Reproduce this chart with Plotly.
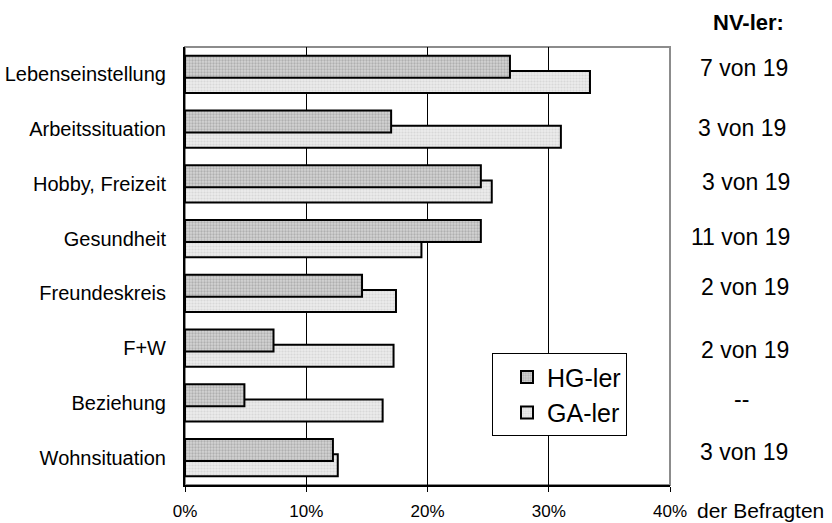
import plotly.graph_objects as go

categories = ["Lebenseinstellung", "Arbeitssituation", "Hobby, Freizeit", "Gesundheit",
              "Freundeskreis", "F+W", "Beziehung", "Wohnsituation"]
hg_values = [26.8, 17.0, 24.4, 24.4, 14.6, 7.3, 4.9, 12.2]
ga_values = [33.4, 31.0, 25.3, 19.5, 17.4, 17.2, 16.3, 12.6]
nv_labels = ["7 von 19", "3 von 19", "3 von 19", "11 von 19", "2 von 19", "2 von 19", "--", "3 von 19"]
nv_shift = [6, 1, 2, 2, 6, -2, 4, 6]
nv_xshift = [0, -2, 2, -4, 1, 1, -3, 0]
x_ticks = [0, 10, 20, 30, 40]
x_ticklabels = ["0%", "10%", "20%", "30%", "40%"]

FONT = "Arial, Liberation Sans, sans-serif"

fig = go.Figure()
fig.add_trace(go.Bar(
    y=categories, x=ga_values, name="GA-ler", orientation="h",
    offset=-0.06, width=0.40,
    marker=dict(color="#e4e4e4", line=dict(color="black", width=2),
                pattern=dict(shape=".", fgcolor="#c4c4c4", bgcolor="#ececec", size=3, solidity=0.4)),
))
fig.add_trace(go.Bar(
    y=categories, x=hg_values, name="HG-ler", orientation="h",
    offset=-0.34, width=0.40,
    marker=dict(color="#b4b4b4", line=dict(color="black", width=2),
                pattern=dict(shape=".", fgcolor="#8a8a8a", bgcolor="#d4d4d4", size=3, solidity=0.45)),
))

annotations = []
for i, (lab, sh, xs) in enumerate(zip(nv_labels, nv_shift, nv_xshift)):
    annotations.append(dict(x=1.1526, xref="paper", y=categories[i], yref="y", text=lab,
                            showarrow=False, xanchor="center", yshift=sh, xshift=xs,
                            font=dict(family=FONT, size=23, color="black")))
annotations.append(dict(x=1.162, xref="paper", y=1.057, yref="paper", text="<b>NV-ler:</b>",
                        showarrow=False, xanchor="center", yanchor="middle",
                        font=dict(family=FONT, size=22, color="black")))
annotations.append(dict(x=1.0515, xref="paper", y=-0.058, yref="paper", text="der Befragten",
                        showarrow=False, xanchor="left", yanchor="middle",
                        font=dict(family=FONT, size=21, color="black")))

fig.update_layout(
    width=832, height=523,
    margin=dict(l=185, r=162, t=47, b=38),
    paper_bgcolor="white", plot_bgcolor="white",
    barmode="overlay",
    font=dict(family=FONT, size=15, color="black"),
    showlegend=True,
    legend=dict(x=0.633, y=0.301, xanchor="left", yanchor="top",
                bgcolor="white", bordercolor="black", borderwidth=1,
                traceorder="reversed", font=dict(family=FONT, size=25, color="black"),
                itemsizing="constant", tracegroupgap=4, indentation=14,
                entrywidth=122, entrywidthmode="pixels"),
    annotations=annotations,
    shapes=[dict(type="rect", xref="paper", yref="paper", x0=0, x1=1, y0=0, y1=1,
                 line=dict(color="#8c8c8c", width=2), layer="below")],
)
fig.update_xaxes(range=[0, 40], tickvals=x_ticks, ticktext=x_ticklabels,
                 showgrid=True, gridcolor="black", gridwidth=1,
                 showline=True, linecolor="black", linewidth=2,
                 ticks="outside", ticklen=5, tickcolor="black", ticklabelstandoff=5,
                 zeroline=False, fixedrange=True, automargin=False, tickfont=dict(size=17))
fig.update_yaxes(categoryorder="array", categoryarray=categories, autorange="reversed",
                 showline=True, linecolor="black", linewidth=2, showgrid=False,
                 ticks="", ticklabelstandoff=13, automargin=False, tickfont=dict(size=20))

fig.write_html("out.html")
